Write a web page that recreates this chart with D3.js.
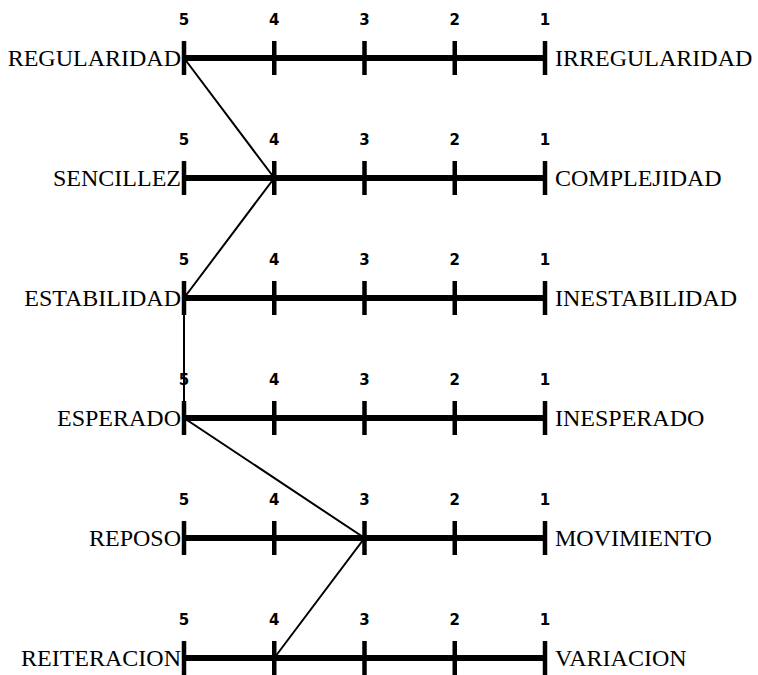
<!DOCTYPE html>
<html>
<head>
<meta charset="utf-8">
<script src="https://cdn.jsdelivr.net/npm/d3@7"></script>
<style>
  body { margin: 0; background: #fff; }
</style>
</head>
<body>
<svg></svg>
<script>
// chart size
let width = 758
let height = 675

// data
let leftPoles = ['REGULARIDAD', 'SENCILLEZ', 'ESTABILIDAD', 'ESPERADO', 'REPOSO', 'REITERACION']
let rightPoles = ['IRREGULARIDAD', 'COMPLEJIDAD', 'INESTABILIDAD', 'INESPERADO', 'MOVIMIENTO', 'VARIACION']
let scaleValues = [5, 4, 3, 2, 1]
let profile = [5, 4, 5, 5, 3, 4]

let svg = d3.select('svg')
            .attr('width', width)
            .attr('height', height)

// x: score 5 on the left, 1 on the right
let xScale = d3.scaleLinear()
                .domain([5, 1])
                .range([184, 545])

// y: one row per pair of adjectives
let yScale = d3.scalePoint()
                .domain(d3.range(leftPoles.length))
                .range([58, 658])

let rows = svg.selectAll('g.row')
    .data(leftPoles)
    .enter()
    .append('g')
    .attr('class', 'row')
    .attr('transform', (d, i) => 'translate(0,' + yScale(i) + ')')

// the bar itself
rows.append('line')
    .attr('x1', xScale(5))
    .attr('x2', xScale(1))
    .attr('stroke', '#000')
    .attr('stroke-width', 6)

// tick marks crossing the bar
rows.selectAll('line.tick')
    .data(scaleValues)
    .enter()
    .append('line')
    .attr('class', 'tick')
    .attr('x1', d => xScale(d))
    .attr('x2', d => xScale(d))
    .attr('y1', -17)
    .attr('y2', 17)
    .attr('stroke', '#000')
    .attr('stroke-width', 4.5)

// score numbers above the ticks
rows.selectAll('text.num')
    .data(scaleValues)
    .enter()
    .append('text')
    .attr('class', 'num')
    .attr('x', d => xScale(d))
    .attr('y', -33)
    .attr('text-anchor', 'middle')
    .style('font-family', '"DejaVu Sans", Verdana, sans-serif')
    .style('font-size', '15px')
    .style('font-weight', 'bold')
    .text(d => d)

// adjectives at both ends
rows.append('text')
    .attr('x', xScale(5) - 3)
    .attr('y', 8)
    .attr('text-anchor', 'end')
    .attr('font-family', '"Liberation Serif", "Times New Roman", serif')
    .attr('font-size', 24)
    .text(d => d)

rows.append('text')
    .attr('x', xScale(1) + 10)
    .attr('y', 8)
    .attr('text-anchor', 'start')
    .attr('font-family', '"Liberation Serif", "Times New Roman", serif')
    .attr('font-size', 24)
    .text((d, i) => rightPoles[i])

// profile line joining the chosen scores
let line = d3.line()
    .x(d => xScale(d))
    .y((d, i) => yScale(i))

svg.append('path')
    .datum(profile)
    .attr('d', line)
    .attr('fill', 'none')
    .attr('stroke', '#000')
    .attr('stroke-width', 2)
</script>
</body>
</html>
